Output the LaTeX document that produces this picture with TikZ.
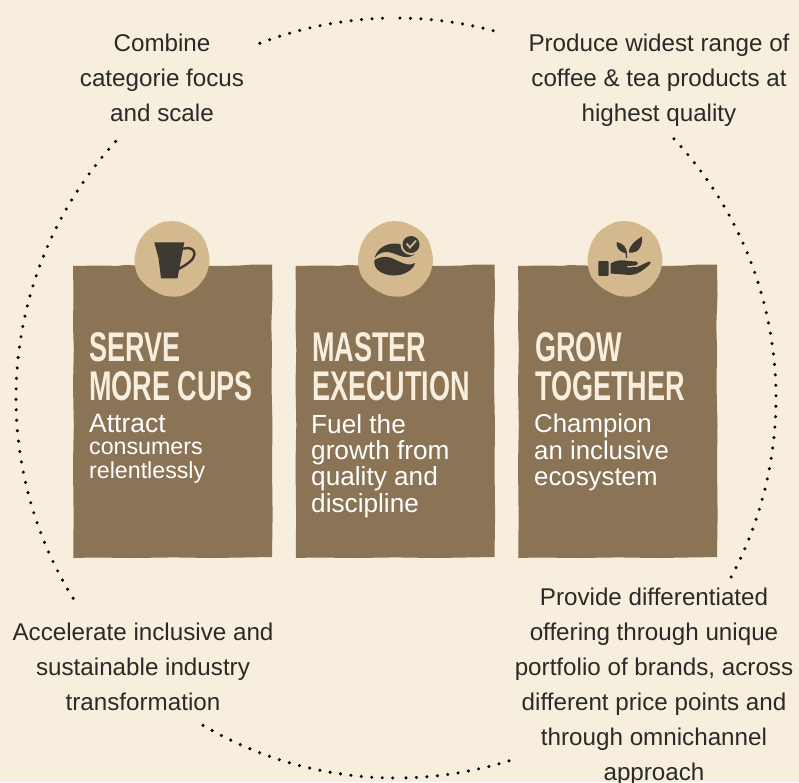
\documentclass[tikz,border=0pt]{standalone}
\usepackage{fontspec}
\setmainfont{Liberation Sans}
\newfontfamily\headfont[FakeStretch=0.652]{Liberation Sans Bold}
\definecolor{bgcol}{HTML}{F7EEDD}
\definecolor{boxcol}{HTML}{8B7355}
\definecolor{circcol}{HTML}{D4B98F}
\definecolor{darkcol}{HTML}{3D3830}
\definecolor{txtcol}{HTML}{2A2A28}
\newcommand\dotarc[3]{\foreach \a in {#1,#2,...,#3}{\fill[black] ({396+380*cos(\a)},{398+380*sin(\a)}) circle[radius=1.7];}}
\newcommand\tornbox[1]{\fill[boxcol,shift={(#1,265)}] (0,1) -- (20,0.6) -- (45,0.8) -- (52,0) -- (62,0.4) -- (100,1) -- (130,0.5) -- (145,1) -- (165,0.6) -- (178,-0.3) -- (199,-0.4) -- (199.5,30) -- (198.3,60) -- (199,85) -- (198.5,120) -- (199.5,160) -- (199,200) -- (199.6,250) -- (199,292) -- (170,292.5) -- (140,293) -- (100,292.4) -- (60,293) -- (20,292.5) -- (0.3,293) -- (0.6,250) -- (0,200) -- (0.8,160) -- (0,120) -- (0.8,85) -- (0,60) -- (0.5,30) -- cycle;}
\newcommand\wobcirc[1]{\fill[circcol,shift={(#1,259)}] plot[smooth cycle] coordinates {(37.5,0) (33,-18) (24,-29) (8,-37) (-9,-37) (-25,-28) (-34,-15) (-37.5,2) (-34,17) (-24,28) (-8,36.5) (9,37) (24,29) (34,16)};}
\tikzset{
  cap text/.style={font=\fontsize{24.2}{35}\selectfont,text=txtcol,align=center,inner sep=0pt},
  head text/.style={font=\headfont\fontsize{41.5}{39}\selectfont,text=bgcol,align=left,inner sep=0pt,anchor=north west},
  sub text/.style={text=white,align=left,inner sep=0pt,anchor=north west},
  icon/.style={fill=darkcol,draw=none}
}
\begin{document}
\begin{tikzpicture}[x=1pt,y=-1pt]
\useasboundingbox (0,0) rectangle (799,782);
\fill[bgcol] (0,0) rectangle (799,782);
% dotted ring
\dotarc{-111}{-109.42}{-90.5}
\dotarc{-89.4}{-87.82}{-74.9}
\dotarc{-43}{-41.42}{28.3}
\dotarc{72.7}{74.28}{89.5}
\dotarc{90.5}{92.08}{121.4}
\dotarc{148.2}{149.78}{223.9}
% boxes
\tornbox{73}
\tornbox{295.5}
\tornbox{518}
\wobcirc{172}
\wobcirc{395.5}
\wobcirc{625}
% cup
\fill[icon] (154.3,242.3) -- (184.3,242.3) -- (177.5,278.3) -- (161,278.3) -- (158.5,258) -- cycle;
\draw[darkcol,line width=2.4pt] (183.3,248.8) .. controls (190,246.5) and (195,249.5) .. (194.5,254.5) .. controls (194,260) and (186,265) .. (178.5,269);
% bean
\fill[icon] (374.6,258) .. controls (377,248) and (387,243) .. (396,243.5) .. controls (404,244) and (407,250) .. (415,252) .. controls (415.5,253) and (415,254) .. (414.5,254.5) .. controls (404,262) and (395,251) .. (385,252) .. controls (380,252.5) and (377,255) .. (374.6,258) -- cycle;
\fill[icon] (374.4,260) .. controls (385,254) and (392,258) .. (398,261) .. controls (404,264) and (410,266) .. (415,263) .. controls (414,270) and (403,276) .. (393,275.5) .. controls (383,275) and (373,270) .. (374.4,260) -- cycle;
\fill[circcol] (411,244.5) circle[radius=10.5];
\fill[icon] (411,244.5) circle[radius=8.5];
\draw[circcol,line width=1.8pt] (406.5,243.5) -- (410,247.5) -- (416,240.5);
% hand and plant
\fill[icon,rounded corners=0.8pt] (598.3,261) rectangle (608.5,275.8);
\fill[icon] (610.5,263.5) .. controls (616,260) and (623,259.5) .. (628,261) -- (636,261.5) .. controls (639,262.5) and (638,265) .. (635,265.5) -- (627,266) -- (627,267.5) -- (637,267) -- (649,261.5) .. controls (651,261) and (651.5,263) .. (650,264) .. controls (644,270) and (637,275) .. (630,275) -- (617,274) -- (610.5,273.5) -- cycle;
\fill[icon] (616.5,242) .. controls (623,243.5) and (627,247) .. (626.5,253.5) .. controls (620,252.5) and (616,248) .. (616.5,242) -- cycle;
\fill[icon] (642,236.5) .. controls (643,245) and (639,254) .. (629,252.5) .. controls (629,245) and (635,241) .. (642,236.5) -- cycle;
\draw[darkcol,line width=1.2pt] (626,250) -- (626.5,258);
% captions
\node[cap text] (combine) at (162,78) {Combine\\categorie focus\\and scale};
\node[cap text] (produce) at (659,80.5) {Produce widest range of\\coffee \& tea products at\\highest quality};
\node[cap text] (accel) at (143,667) {Accelerate inclusive and\\sustainable industry\\transformation};
\node[cap text] (provide) at (654,686.3) {Provide differentiated\\offering through unique\\portfolio of brands, across\\different price points and\\through omnichannel\\approach};
% box text
\node[head text] (h1) at (89,332) {SERVE\\MORE CUPS};
\node[head text] (h2) at (312,332) {MASTER\\EXECUTION};
\node[head text] (h3) at (535,332) {GROW\\TOGETHER};
\node[sub text,font=\fontsize{26.5}{26}\selectfont] (s1a) at (89,414) {Attract};
\node[sub text,font=\fontsize{23.2}{24}\selectfont] (s1b) at (89,442) {consumers\\relentlessly};
\node[sub text,font=\fontsize{26.2}{26.4}\selectfont] (s2) at (311,414) {Fuel the\\growth from\\quality and\\discipline};
\node[sub text,font=\fontsize{25.8}{26.2}\selectfont] (s3) at (534,414) {Champion\\an inclusive\\ecosystem};
\end{tikzpicture}
\end{document}
